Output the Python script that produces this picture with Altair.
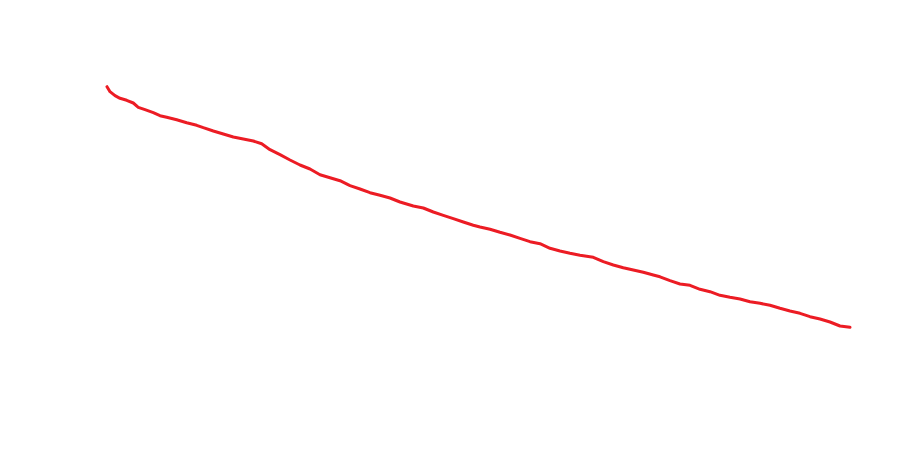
import altair as alt
import pandas as pd

x_vals = [99, 102, 107, 112, 118.7, 125.3, 130.3, 137, 145.3, 152, 158.7, 168.7, 178.7, 188.7,
          195.3, 205.3, 215.3, 225.3, 235.3, 245.3, 253.7, 262, 272, 282, 292, 302, 312, 322,
          332, 342, 352, 362, 372, 382, 392, 405.3, 415.3, 425.3, 435.3, 445.3, 455.3, 465.3,
          472, 482, 492, 502, 512, 522, 532, 542, 552, 562, 572, 585.3, 595.3, 605.3, 615.3,
          625.3, 635.3, 645.3, 652, 662, 672, 682, 692, 702, 712, 722, 732, 742, 752, 762, 772,
          782, 792, 802, 812, 822, 832, 842]
y_vals = [356.3, 351.3, 347.3, 344.7, 342.7, 340, 335.7, 333.3, 330.3, 327.3, 325.7, 323.3,
          320.3, 317.7, 315.3, 312, 309, 306, 304, 302, 299.3, 293.3, 288.3, 283, 278, 274,
          268.3, 265.3, 262.3, 257.3, 254, 250.3, 247.7, 245, 241, 237, 235, 231, 227.7, 224.3,
          221, 217.8, 216, 213.7, 210.7, 208, 204.7, 201.3, 199.3, 194.7, 192, 189.7, 187.7,
          185.7, 181.3, 178, 175.3, 173, 170.7, 168, 166.2, 162.3, 159, 157.7, 153.7, 151.3,
          147.7, 145.7, 144, 141.3, 139.7, 137.7, 134.7, 132, 129.7, 126.3, 124, 121, 117, 115.7]

df = pd.DataFrame({"x": x_vals, "y": y_vals})

chart = alt.Chart(df).mark_line(color="#ec1c24", strokeWidth=3, strokeCap="round", strokeJoin="round").encode(
    x=alt.X("x:Q", scale=alt.Scale(domain=[0, 893], nice=False, zero=False), axis=None),
    y=alt.Y("y:Q", scale=alt.Scale(domain=[0, 435], nice=False, zero=False), axis=None),
).properties(
    width=893, height=435, padding=0, autosize=alt.AutoSizeParams(type="none")
).configure(background="white").configure_view(strokeWidth=0, stroke="transparent")

chart.save("out.html", embed_options={"renderer": "svg", "actions": False})
